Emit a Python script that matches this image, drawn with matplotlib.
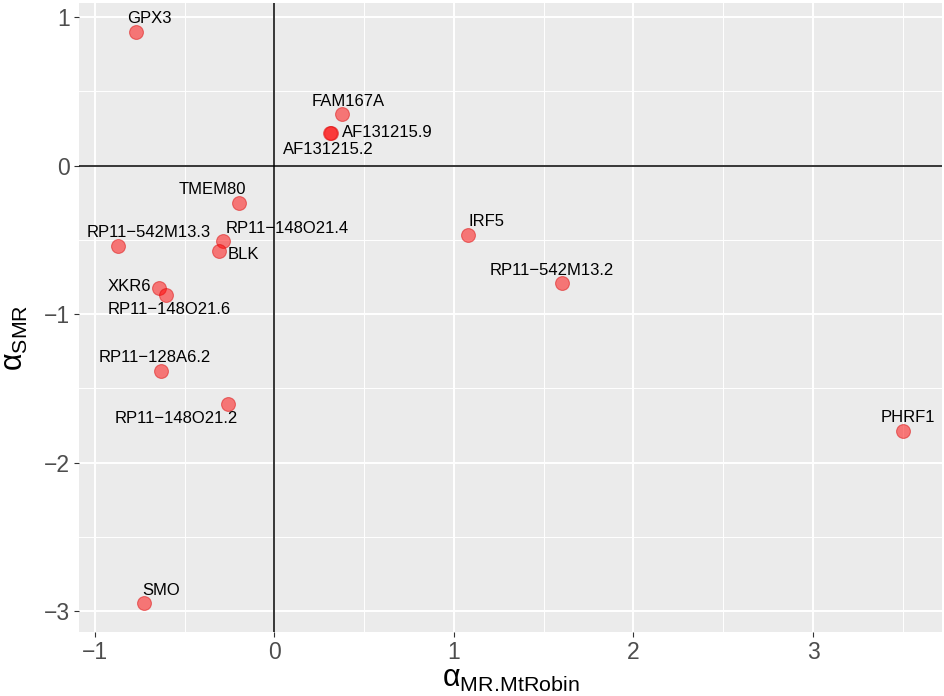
import matplotlib
matplotlib.use('Agg')
import matplotlib.pyplot as plt
from matplotlib.ticker import MultipleLocator

# values
genes = ['GPX3', 'FAM167A', 'AF131215.9', 'AF131215.2', 'TMEM80',
         'RP11\u2212148O21.4', 'BLK', 'RP11\u2212542M13.3', 'XKR6',
         'RP11\u2212148O21.6', 'RP11\u2212128A6.2', 'RP11\u2212148O21.2',
         'IRF5', 'RP11\u2212542M13.2', 'PHRF1', 'SMO']
alpha_mr = [-0.772, 0.376, 0.314, 0.308, -0.198, -0.285, -0.311, -0.870,
            -0.643, -0.606, -0.632, -0.257, 1.080, 1.600, 3.500, -0.725]
alpha_smr = [0.902, 0.346, 0.222, 0.222, -0.249, -0.505, -0.572, -0.541,
             -0.826, -0.873, -1.380, -1.605, -0.467, -0.792, -1.787, -2.947]

# label offsets from each point in pixels (right, up) - mimics ggrepel layout
label_offsets = {
    'GPX3': (14, 13),
    'FAM167A': (6, 13),
    'AF131215.9': (57, 0),
    'AF131215.2': (-1, -17),
    'TMEM80': (-26, 13),
    'RP11\u2212148O21.4': (64, 12),
    'BLK': (25, -4),
    'RP11\u2212542M13.3': (30, 13),
    'XKR6': (-30, 2),
    'RP11\u2212148O21.6': (4, -14),
    'RP11\u2212128A6.2': (-6, 13),
    'RP11\u2212148O21.2': (-52, -14),
    'IRF5': (18, 13),
    'RP11\u2212542M13.2': (-10, 13),
    'PHRF1': (5, 14),
    'SMO': (17, 13),
}

plt.rcParams['font.family'] = ['Liberation Sans', 'DejaVu Sans']
plt.rcParams['mathtext.fontset'] = 'custom'
plt.rcParams['mathtext.rm'] = 'Liberation Sans'
plt.rcParams['mathtext.it'] = 'Liberation Sans:italic'

fig = plt.figure(figsize=(9.45, 6.96), dpi=100)
ax = fig.add_axes([0.0836, 0.092, 0.9132, 0.9037])
ax.set_facecolor('#EBEBEB')

# reference lines through the origin
ax.axhline(0, color='black', lw=1.1, zorder=2)
ax.axvline(0, color='black', lw=1.1, zorder=2)

ax.scatter(alpha_mr, alpha_smr, s=100, facecolor=(1, 0, 0, 0.5),
           edgecolor=(0.85, 0, 0, 0.45), linewidth=0.8, zorder=3)

for g, xv, yv in zip(genes, alpha_mr, alpha_smr):
    dx, dy = label_offsets[g]
    ax.annotate(g, (xv, yv), xytext=(dx, dy), textcoords='offset pixels',
                ha='center', va='center', fontsize=12, color='black', zorder=4)

ax.set_xticks([-1, 0, 1, 2, 3])
ax.set_yticks([-3, -2, -1, 0, 1])
ax.xaxis.set_minor_locator(MultipleLocator(0.5))
ax.yaxis.set_minor_locator(MultipleLocator(0.5))
ax.grid(which='major', color='white', lw=1.4)
ax.grid(which='minor', color='white', lw=0.7)
ax.set_axisbelow(True)

for s in ax.spines.values():
    s.set_visible(False)
ax.tick_params(which='major', length=3.5, width=0.8, color='#333333',
               labelsize=16.5, labelcolor='#4D4D4D', pad=3)
ax.tick_params(which='minor', length=0)

ax.set_xlabel(r'$\mathrm{\alpha}_{\mathrm{MR.\!MtRobin}}$', fontsize=22, labelpad=0)
fig.text(0.016, 0.515, r'$\mathrm{\alpha}_{\mathrm{SMR}}$', fontsize=22,
         rotation=90, ha='center', va='center')

fig.savefig('out.png', dpi=100)
